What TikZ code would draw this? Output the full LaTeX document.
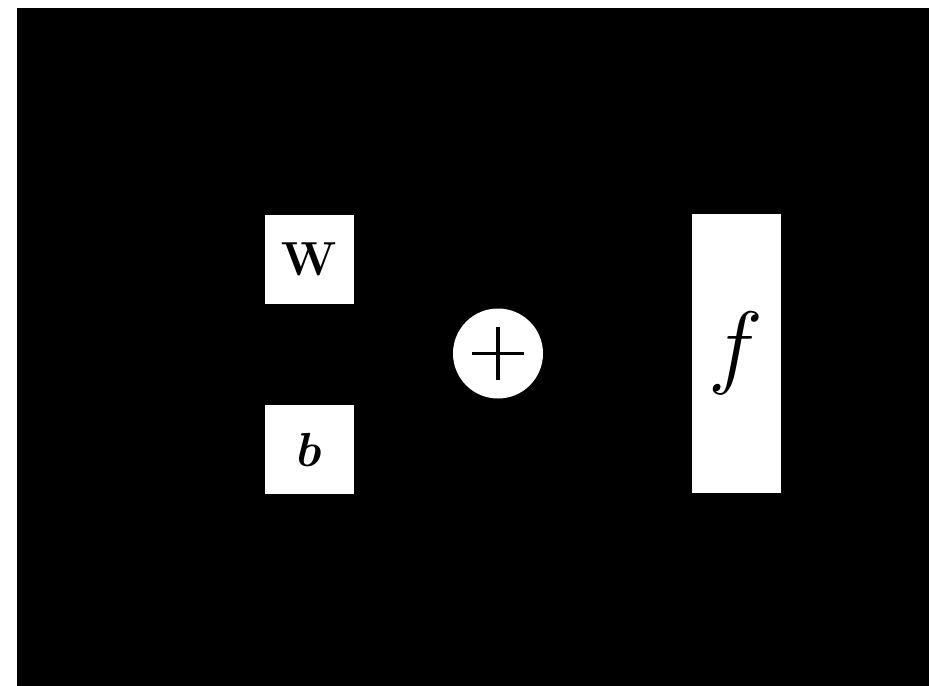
\RequirePackage{fix-cm}
\documentclass[tikz,border=0pt]{standalone}
\usepackage{amsmath,bm}
\usetikzlibrary{positioning,calc}
\definecolor{Fondo}{RGB}{0,0,0}
\definecolor{Caja}{RGB}{255,255,255}
\tikzset{
  parbox/.style={fill=Caja, draw=none, inner sep=0pt, minimum size=2.225cm,
    text=Fondo, font=\fontsize{34}{40}\selectfont},
  sumnode/.style={circle, fill=Caja, draw=none, inner sep=0pt, minimum size=2.25cm},
  sumline/.style={draw=Fondo, line width=2.8pt},
  actbox/.style={fill=Caja, draw=none, inner sep=0pt, minimum width=2.225cm,
    minimum height=6.975cm, text=Fondo, font=\fontsize{66}{72}\selectfont},
}
\begin{document}
\begin{tikzpicture}
    \useasboundingbox[fill=white] (0,0) rectangle (23.225,-17.15);
    \fill[Fondo] (0.425,-0.2) rectangle (23.225,-17.15);

    \node[parbox] (w) at (7.725,-6.475) {$\mathbf{W}$};
    \node[parbox, below=2.525cm of w] (b) {$\bm{b}$};

    \node[sumnode] (add) at (12.45,-8.8375) {};
    \draw[sumline] ($(add.center)+(-0.66,0)$) -- ($(add.center)+(0.66,0)$);
    \draw[sumline] ($(add.center)+(0,-0.66)$) -- ($(add.center)+(0,0.66)$);

    \node[actbox, right=3.7cm of add] (f) {$f$};
\end{tikzpicture}
\end{document}
